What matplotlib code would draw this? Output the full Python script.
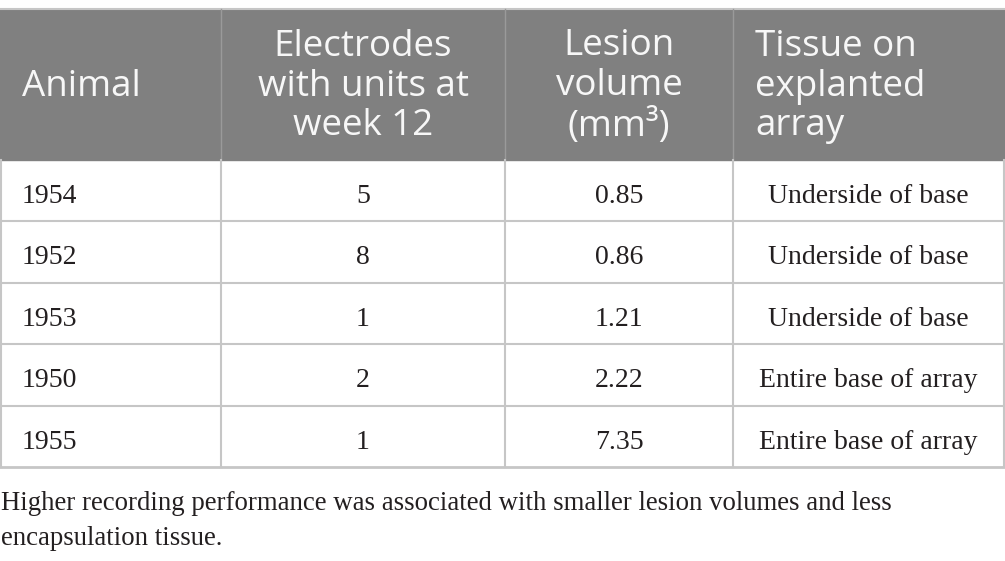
import matplotlib
matplotlib.use("Agg")
import matplotlib.pyplot as plt
from matplotlib.patches import Rectangle

# table content
headers = ["Animal", "Electrodes\nwith units at\nweek 12", "Lesion\nvolume\n(mm³)", "Tissue on\nexplanted\narray"]
animals = ["1954", "1952", "1953", "1950", "1955"]
electrodes = [5, 8, 1, 2, 1]
lesion_volume = ["0.85", "0.86", "1.21", "2.22", "7.35"]
tissue = ["Underside of base", "Underside of base", "Underside of base",
          "Entire base of array", "Entire base of array"]
caption_lines = ["Higher recording performance was associated with smaller lesion volumes and less",
                 "encapsulation tissue."]

W, H = 1005, 561
col_edges = [0, 221, 505, 733, 1004]
header_top, header_bot = 9, 160
row_h = 61.4
line_col = "#c6c6c6"
text_col = "#231f20"
serif = "Liberation Serif"
sans = "Open Sans"

fig = plt.figure(figsize=(W / 100, H / 100), dpi=100)
ax = fig.add_axes([0, 0, 1, 1])
ax.set_xlim(0, W)
ax.set_ylim(H, 0)
ax.axis("off")

# header band
ax.add_patch(Rectangle((0, header_top), W, header_bot - header_top, color="#808080", zorder=0))
ax.plot([0, W], [header_top - 0.5, header_top - 0.5], color=line_col, lw=1.5)
for x in col_edges[1:-1]:
    ax.plot([x, x], [header_top, header_bot], color="#9a9a9a", lw=1)

hx = [22, (col_edges[1] + col_edges[2]) / 2, (col_edges[2] + col_edges[3]) / 2, 755]
ha = ["left", "center", "center", "left"]
for i, h in enumerate(headers):
    ax.text(hx[i], (header_top + header_bot) / 2 + 2, h, ha=ha[i], va="center",
            fontsize=26.5, family=sans, color="#f7f7f7", linespacing=1.14,
            multialignment=ha[i])

# body rows
n = len(animals)
table_bot = header_bot + n * row_h
for r in range(n):
    top = header_bot + r * row_h
    base = top + 43
    ax.text(22, base, animals[r], ha="left", va="baseline", fontsize=20, family=serif, color=text_col)
    ax.text((col_edges[1] + col_edges[2]) / 2, base, str(electrodes[r]), ha="center", va="baseline",
            fontsize=20, family=serif, color=text_col)
    ax.text((col_edges[2] + col_edges[3]) / 2, base, lesion_volume[r], ha="center", va="baseline",
            fontsize=20, family=serif, color=text_col)
    ax.text((col_edges[3] + col_edges[4]) / 2, base, tissue[r], ha="center", va="baseline",
            fontsize=20, family=serif, color=text_col)
    if r > 0:
        ax.plot([0, W], [top, top], color=line_col, lw=1.5)

ax.plot([0, W], [table_bot, table_bot], color=line_col, lw=2)
for x in col_edges:
    xx = min(max(x, 0.75), W - 1.25)
    ax.plot([xx, xx], [header_bot, table_bot], color=line_col, lw=1.5)

for k, line in enumerate(caption_lines):
    ax.text(1, 510 + 35 * k, line, ha="left", va="baseline", fontsize=19.3, family=serif,
            color=text_col)

fig.savefig("out.png", dpi=100)
